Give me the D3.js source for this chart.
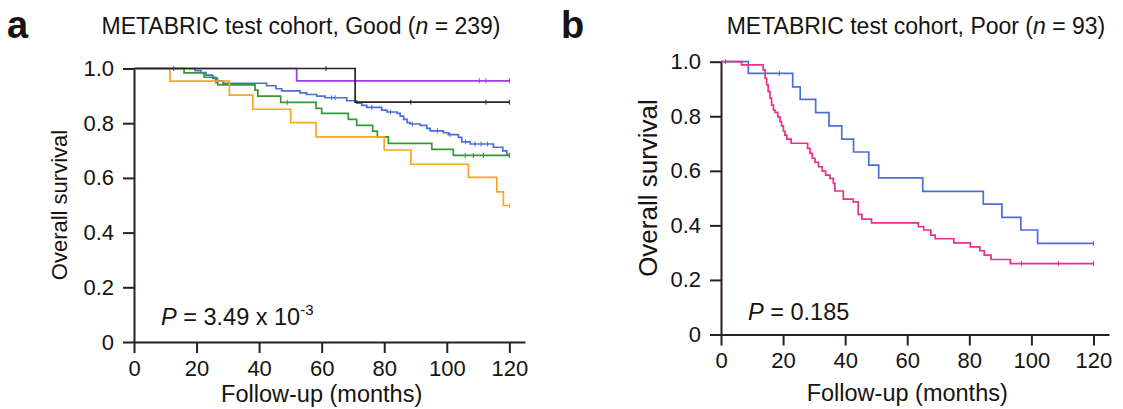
<!DOCTYPE html>
<html>
<head>
<meta charset="utf-8">
<script src="https://cdn.jsdelivr.net/npm/d3@7"></script>
<style>
body { margin: 0; background: #fff; }
svg { display: block; }
text { font-family: "Liberation Sans", Arial, Helvetica, sans-serif; fill: #161311; }
</style>
</head>
<body>
<svg id="chart" width="1123" height="409"></svg>
<script>
// ticks
var xTicks = [0, 20, 40, 60, 80, 100, 120];
var yTicks = [0, 0.2, 0.4, 0.6, 0.8, 1.0];

// panel a, Good cohort: [month, survival] at each step
var goodBlue = [[0,1],[19.5,0.992],[21.4,0.985],[23.0,0.976],[25.2,0.964],[26.7,0.955],[28.4,0.946],
  [42.4,0.937],[45.4,0.926],[47.2,0.918],[53.1,0.911],[55.2,0.905],[58.4,0.899],[61.1,0.893],
  [68.0,0.882],[71.2,0.873],[72.8,0.865],[74.4,0.858],[79.2,0.848],[80.9,0.841],[84.1,0.836],
  [85.1,0.826],[86.2,0.814],[87.3,0.802],[88.3,0.797],[91.5,0.792],[93.6,0.781],[94.7,0.772],
  [98.9,0.765],[100.5,0.758],[103.7,0.748],[104.8,0.732],[107.5,0.724],[114.9,0.712],
  [117.9,0.699],[119.2,0.683],[120,0.683]];
var goodBlueCensor = [12.6, 63.2, 64.3, 76, 82, 89, 97, 101, 106, 109, 111, 113, 120];

var goodGreen = [[0,1],[16,0.984],[22.4,0.968],[26.2,0.948],[26.8,0.94],[38.7,0.921],[39.6,0.899],
  [46.9,0.876],[58.2,0.854],[60,0.836],[68.5,0.814],[71.2,0.792],[76.3,0.771],[77.8,0.75],
  [81.3,0.726],[95.2,0.704],[102.1,0.682],[120,0.682]];
var goodGreenCensor = [49, 105.9, 108.5, 111.7, 120];

var goodOrange = [[0,1],[11.5,0.954],[30.5,0.903],[38,0.851],[50.1,0.802],[58.2,0.75],[80,0.702],
  [88.5,0.65],[106.9,0.602],[116,0.549],[118.1,0.499],[120,0.499]];
var goodOrangeCensor = [120];

var goodPurple = [[0,1],[52,0.955],[120,0.955]];
var goodPurpleCensor = [110.4, 112.5, 120];

var goodBlack = [[0,1],[70.7,0.877],[120,0.877]];
var goodBlackCensor = [61.4, 88.5, 112.5, 120];

// panel b, Poor cohort
var poorBlue = [[0,1],[8.8,0.957],[23.1,0.908],[25.5,0.862],[30.5,0.813],[34.8,0.765],[38.9,0.716],
  [42.7,0.669],[47.6,0.621],[50.8,0.574],[65,0.525],[84.5,0.478],[90.5,0.429],[96.6,0.383],
  [102,0.334],[120,0.334]];
var poorBlueCensor = [18.8, 120];

var poorPink = [[0,1],[6.6,0.988],[13.6,0.970],[14.2,0.939],[14.7,0.915],[15.2,0.890],[15.8,0.866],
  [16.3,0.841],[16.9,0.823],[17.4,0.814],[18.3,0.798],[19.0,0.780],[19.5,0.765],[20.1,0.746],
  [20.6,0.731],[21.2,0.716],[22.6,0.701],[27.9,0.682],[28.7,0.664],[29.4,0.646],[30.3,0.631],
  [31.4,0.615],[32.6,0.599],[33.7,0.584],[35.1,0.572],[36.2,0.554],[36.7,0.526],[39.4,0.496],
  [42.6,0.486],[44.2,0.440],[45.4,0.423],[48.5,0.409],[63.6,0.395],[65.3,0.383],[67.6,0.364],
  [69.0,0.351],[75.0,0.336],[80.3,0.321],[83.4,0.307],[84.8,0.291],[87.0,0.275],[93.2,0.260],
  [120,0.260]];
var poorPinkCensor = [1.5, 96.8, 108.7, 120];

var panels = [
  { letter: "a", cohort: "Good", n: "239", x0: 134, x1: 525, yTop: 68.5, yBot: 342,
    titleX: 301, letterX: 7, pX: 161, pY: 325, yLabelX: 67, yLabelY: 205, yLabelSize: 22,
    xLabelDy: 60,
    curves: [
      { data: goodBlue, censor: goodBlueCensor, color: "#4a6fd9" },
      { data: goodGreen, censor: goodGreenCensor, color: "#36983a" },
      { data: goodOrange, censor: goodOrangeCensor, color: "#f6a623" },
      { data: goodPurple, censor: goodPurpleCensor, color: "#a23be6" },
      { data: goodBlack, censor: goodBlackCensor, color: "#262626" }
    ] },
  { letter: "b", cohort: "Poor", n: "93", x0: 721, x1: 1109, yTop: 61.7, yBot: 334.5,
    titleX: 916, letterX: 561, pX: 748, pY: 320, yLabelX: 657, yLabelY: 188, yLabelSize: 26,
    xLabelDy: 66,
    curves: [
      { data: poorBlue, censor: poorBlueCensor, color: "#4a6fd9" },
      { data: poorPink, censor: poorPinkCensor, color: "#ee2d8d" }
    ] }
];

var svg = d3.select("#chart");
var axisColor = "#2b201d";

function survAt(data, t) {
  var s = data[0][1];
  data.forEach(function(d) { if (d[0] <= t) s = d[1]; });
  return s;
}

panels.forEach(function(p, pi) {
  var x = d3.scaleLinear().domain([0, 125]).range([p.x0, p.x1]);
  var y = d3.scaleLinear().domain([0, 1]).range([p.yBot, p.yTop]);
  var g = svg.append("g");

  // panel letter and title
  g.append("text")
    .attr("x", p.letterX).attr("y", 38)
    .style("font-size", "38px").style("font-weight", "bold")
    .text(p.letter);

  var title = g.append("text")
    .attr("x", p.titleX).attr("y", 34)
    .attr("text-anchor", "middle")
    .style("font-size", "23px");
  title.append("tspan").text("METABRIC test cohort, " + p.cohort + " (");
  title.append("tspan").style("font-style", "italic").text("n");
  title.append("tspan").text(" = " + p.n + ")");

  // axes
  var xAxis = d3.axisBottom(x).tickValues(xTicks).tickSize(11).tickSizeOuter(0).tickPadding(7);
  var yAxis = d3.axisLeft(y).tickValues(yTicks).tickSize(11).tickSizeOuter(0).tickPadding(9)
    .tickFormat(function(d) { return d === 0 ? "0" : d3.format(".1f")(d); });

  var gx = g.append("g").attr("transform", "translate(0," + p.yBot + ")").call(xAxis);
  var gy = g.append("g").attr("transform", "translate(" + p.x0 + ",0)").call(yAxis);
  [gx, gy].forEach(function(a) {
    a.selectAll("path, line").attr("stroke", axisColor).attr("stroke-width", 2);
    a.selectAll("text").style("font-size", "22px").attr("fill", "#161311")
      .style("font-family", "\"Liberation Sans\", Arial, sans-serif");
  });

  g.append("text")
    .attr("x", (x(0) + x(120)) / 2).attr("y", p.yBot + p.xLabelDy)
    .attr("text-anchor", "middle")
    .style("font-size", "23.5px")
    .text("Follow-up (months)");

  g.append("text")
    .attr("transform", "translate(" + p.yLabelX + "," + p.yLabelY + ") rotate(-90)")
    .attr("text-anchor", "middle")
    .style("font-size", p.yLabelSize + "px")
    .text("Overall survival");

  // curves
  var line = d3.line()
    .x(function(d) { return x(d[0]); })
    .y(function(d) { return y(d[1]); })
    .curve(d3.curveStepAfter);

  p.curves.forEach(function(c) {
    g.append("path")
      .datum(c.data)
      .attr("d", line)
      .attr("fill", "none")
      .attr("stroke", c.color)
      .attr("stroke-width", 1.7);

    g.selectAll(null)
      .data(c.censor)
      .enter().append("line")
      .attr("x1", function(t) { return x(t); })
      .attr("x2", function(t) { return x(t); })
      .attr("y1", function(t) { return y(survAt(c.data, t)) - 2.5; })
      .attr("y2", function(t) { return y(survAt(c.data, t)) + 2.5; })
      .attr("stroke", c.color)
      .attr("stroke-width", 1);
  });

  // P value
  var pt = g.append("text")
    .attr("x", p.pX).attr("y", p.pY)
    .style("font-size", "23.5px");
  pt.append("tspan").style("font-style", "italic").text("P");
  if (pi === 0) {
    pt.append("tspan").text(" = 3.49 x 10");
    pt.append("tspan").attr("dy", -10).style("font-size", "15px").text("-3");
  } else {
    pt.append("tspan").text(" = 0.185");
  }
});
</script>
</body>
</html>
